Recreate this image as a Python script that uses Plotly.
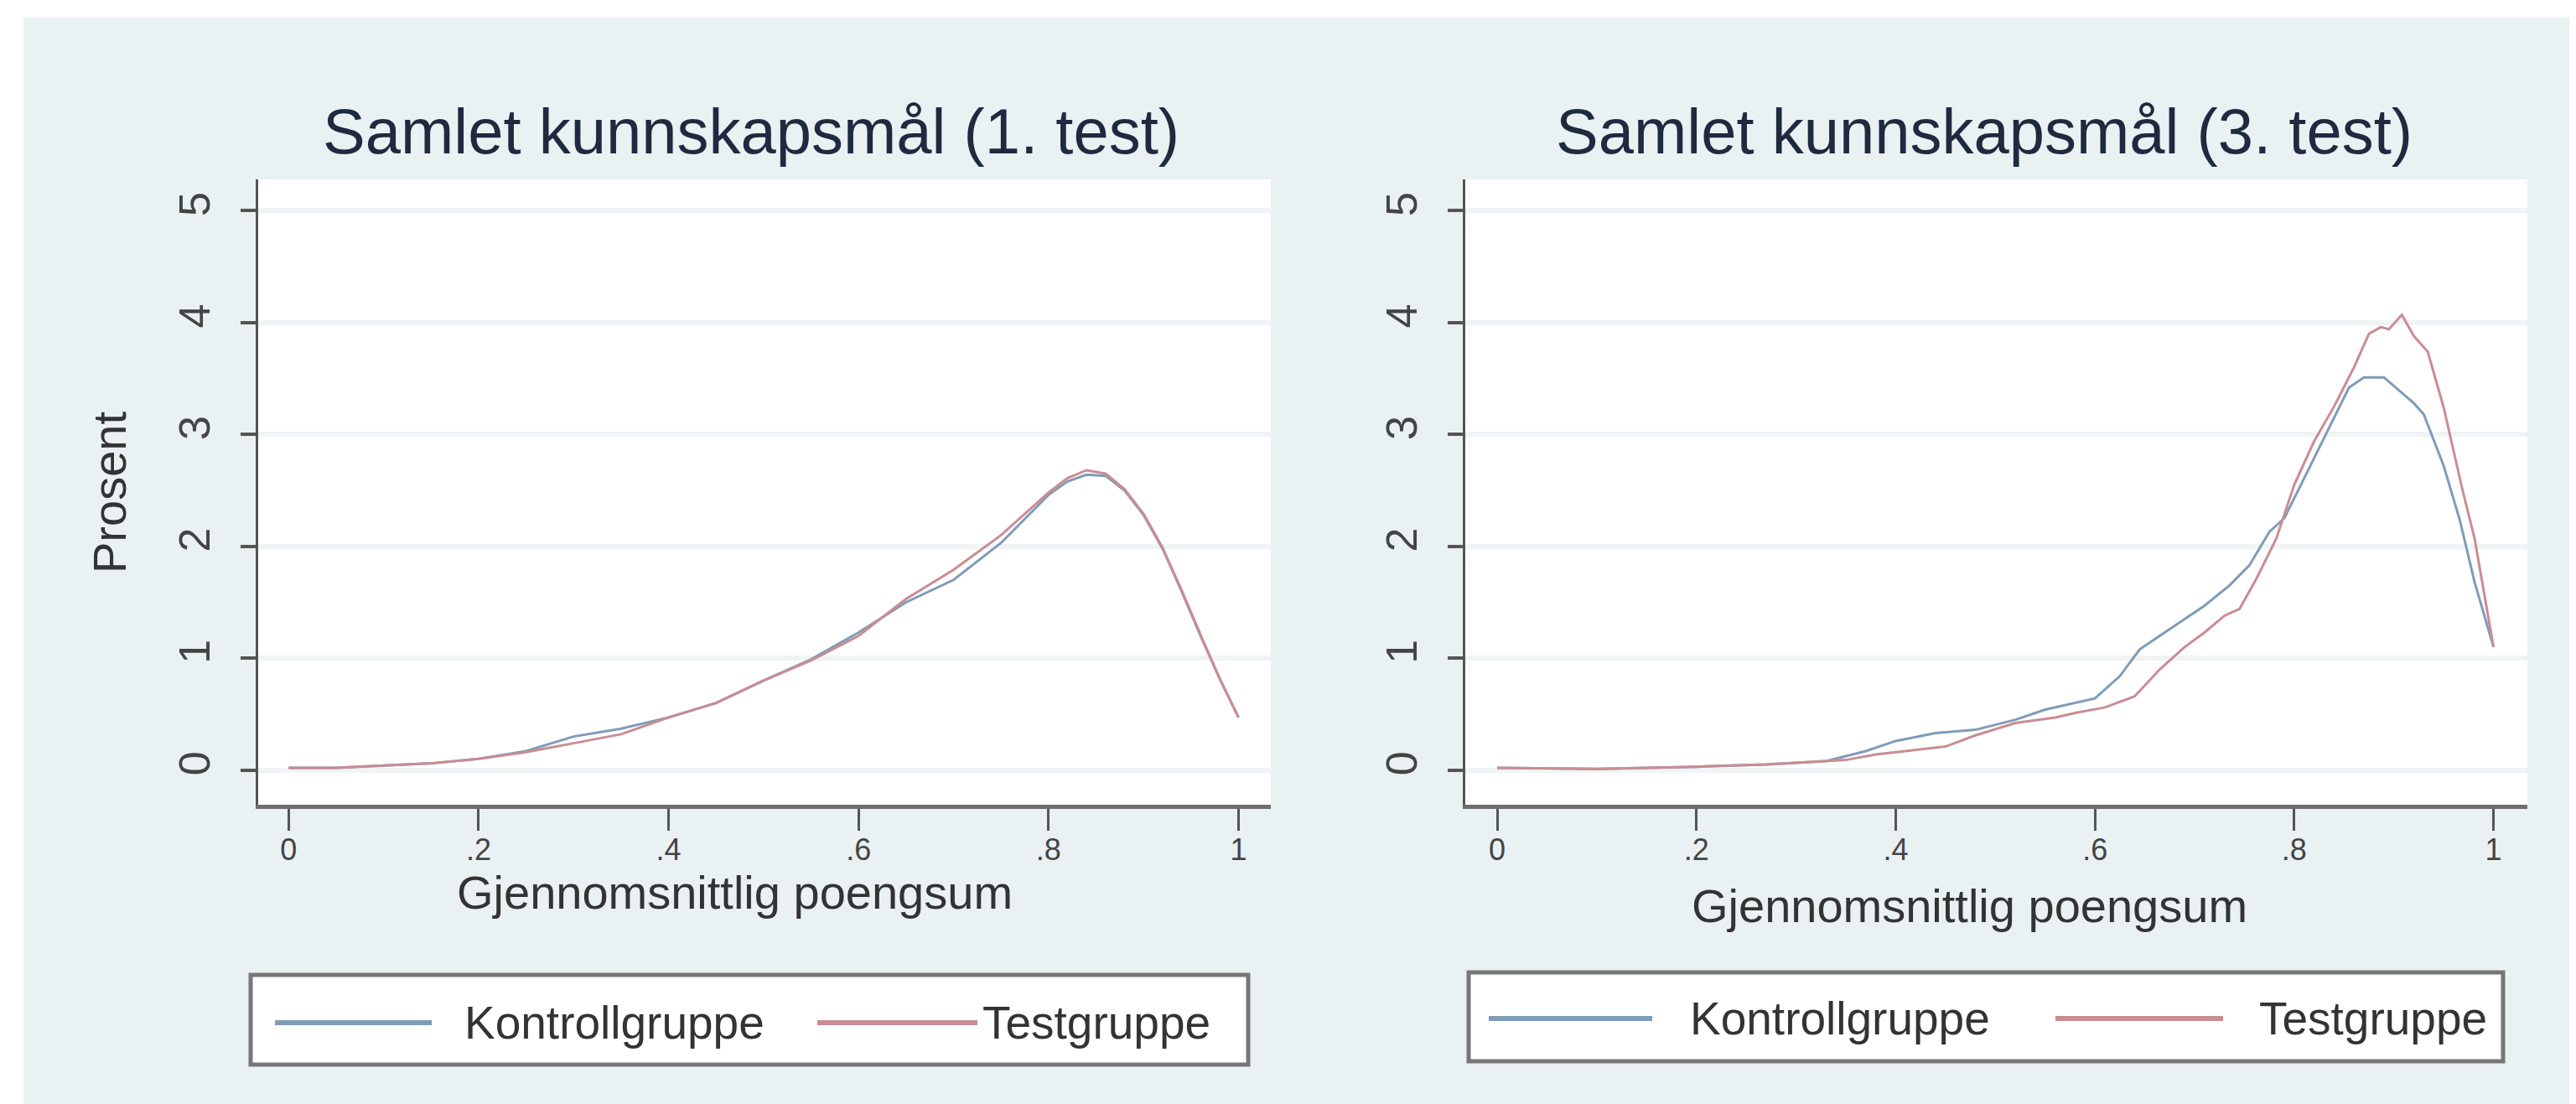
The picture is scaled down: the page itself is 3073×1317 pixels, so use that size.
import plotly.graph_objects as go
from plotly.subplots import make_subplots

# Samlet kunnskapsmål (1. test) - kernel density per gruppe
x_test1 = [0, 0.05, 0.1, 0.15, 0.2, 0.25, 0.3, 0.35, 0.4, 0.45, 0.5, 0.55, 0.6, 0.65,
           0.7, 0.75, 0.8, 0.82, 0.84, 0.86, 0.88, 0.9, 0.92, 0.94, 0.96, 0.98, 1.0]
kontroll1 = [0.02, 0.02, 0.04, 0.06, 0.10, 0.17, 0.30, 0.37, 0.47, 0.60, 0.80, 0.99, 1.23, 1.50,
             1.70, 2.03, 2.46, 2.58, 2.64, 2.63, 2.50, 2.28, 1.98, 1.60, 1.20, 0.82, 0.47]
testgr1 = [0.02, 0.02, 0.04, 0.06, 0.10, 0.16, 0.24, 0.32, 0.47, 0.60, 0.80, 0.98, 1.20, 1.53,
           1.79, 2.10, 2.48, 2.61, 2.68, 2.65, 2.51, 2.29, 1.99, 1.61, 1.21, 0.82, 0.47]

# Samlet kunnskapsmål (3. test)
x_kontroll3 = [0, 0.1, 0.2, 0.27, 0.33, 0.37, 0.4, 0.44, 0.48, 0.52, 0.55, 0.6, 0.625, 0.645,
               0.68, 0.71, 0.735, 0.755, 0.775, 0.79, 0.815, 0.84, 0.855, 0.87, 0.89, 0.92,
               0.93, 0.95, 0.966, 0.981, 1.0]
kontroll3 = [0.02, 0.01, 0.03, 0.05, 0.08, 0.17, 0.26, 0.33, 0.36, 0.45, 0.54, 0.64, 0.84, 1.08,
             1.29, 1.47, 1.65, 1.83, 2.13, 2.25, 2.70, 3.15, 3.42, 3.51, 3.51, 3.28,
             3.18, 2.72, 2.24, 1.68, 1.10]
x_test3 = [0, 0.1, 0.2, 0.27, 0.35, 0.38, 0.41, 0.45, 0.48, 0.52, 0.56, 0.58, 0.61, 0.64,
           0.665, 0.69, 0.71, 0.73, 0.745, 0.762, 0.782, 0.80, 0.82, 0.84, 0.86, 0.875,
           0.887, 0.895, 0.908, 0.92, 0.934, 0.95, 0.969, 0.981, 1.0]
testgr3 = [0.02, 0.01, 0.03, 0.05, 0.09, 0.14, 0.17, 0.21, 0.31, 0.42, 0.47, 0.51, 0.56, 0.66,
           0.90, 1.10, 1.23, 1.38, 1.44, 1.71, 2.07, 2.55, 2.94, 3.25, 3.60, 3.90,
           3.96, 3.94, 4.07, 3.88, 3.74, 3.24, 2.50, 2.07, 1.10]

titler = ["Samlet kunnskapsmål (1. test)", "Samlet kunnskapsmål (3. test)"]
grupper = ["Kontrollgruppe", "Testgruppe"]
x_tickvals = [0, 0.2, 0.4, 0.6, 0.8, 1]
x_ticktext = ["0", ".2", ".4", ".6", ".8", "1"]
y_tickvals = [0, 1, 2, 3, 4, 5]

W, H = 3073, 1317
FONT = "Liberation Sans, Arial, sans-serif"
BG = "#e9f1f3"
BLAA = "#7f9cb8"
ROED = "#c98d93"


def px(x):
    return x / W


def py(y):
    return 1 - y / H


fig = make_subplots(rows=1, cols=2)

paneler = [
    (1, x_test1, kontroll1, x_test1, testgr1),
    (2, x_kontroll3, kontroll3, x_test3, testgr3),
]
for col, xk, yk, xt, yt in paneler:
    fig.add_trace(go.Scatter(x=xk, y=yk, mode="lines", name=grupper[0], showlegend=False,
                             line=dict(color=BLAA, width=3)), row=1, col=col)
    fig.add_trace(go.Scatter(x=xt, y=yt, mode="lines", name=grupper[1], showlegend=False,
                             line=dict(color=ROED, width=3)), row=1, col=col)

akse_x = dict(range=[-0.032, 1.034], tickvals=x_tickvals, ticktext=x_ticktext,
              showgrid=False, zeroline=False, showline=True, linecolor="#6e6e6e",
              linewidth=5, ticks="outside", ticklen=26, tickwidth=3, tickcolor="#555",
              ticklabelstandoff=-8,
              tickfont=dict(size=36, color="#444", family=FONT))
akse_y = dict(range=[-0.31, 5.28], tickvals=y_tickvals, tickangle=-90,
              showgrid=True, gridcolor="#f0f4f5", gridwidth=6, zeroline=False,
              showline=True, linecolor="#555", linewidth=3, ticks="outside",
              ticklen=18, tickwidth=4, tickcolor="#555", ticklabelstandoff=16,
              tickfont=dict(size=52, color="#444", family=FONT))

fig.update_xaxes(**akse_x)
fig.update_yaxes(**akse_y)
fig.update_layout(
    xaxis=dict(domain=[px(300), px(1508)]),
    xaxis2=dict(domain=[px(1740), px(3007)]),
    yaxis=dict(domain=[py(952), py(206)]),
    yaxis2=dict(domain=[py(952), py(206)]),
)

shapes = [
    # hvit kant øverst og til venstre
    dict(type="rect", xref="paper", yref="paper", x0=0, x1=1, y0=py(13), y1=1,
         fillcolor="white", line=dict(width=0), layer="below"),
    dict(type="rect", xref="paper", yref="paper", x0=0, x1=px(20), y0=0, y1=1,
         fillcolor="white", line=dict(width=0), layer="below"),
]
annotations = []

# titler og aksetitler
for tekst, cx in zip(titler, [888, 2359]):
    annotations.append(dict(text=tekst, x=px(cx), y=py(148), xref="paper", yref="paper",
                            showarrow=False, xanchor="center", yanchor="middle",
                            font=dict(size=76, color="#1f2a40", family=FONT)))
for cx, cy in [(868, 1056), (2341, 1072)]:
    annotations.append(dict(text="Gjennomsnittlig poengsum", x=px(cx), y=py(cy),
                            xref="paper", yref="paper", showarrow=False,
                            xanchor="center", yanchor="middle",
                            font=dict(size=56, color="#333", family=FONT)))
annotations.append(dict(text="Prosent", x=px(123), y=py(580), xref="paper", yref="paper",
                        showarrow=False, textangle=-90, xanchor="center", yanchor="middle",
                        font=dict(size=56, color="#333", family=FONT)))

# legender (en per panel)
legender = [
    dict(box=(291, 1481, 1155, 1262), ly=1212, linjer=[(320, 507), (967, 1158)], tekst=[544, 1162]),
    dict(box=(1744, 2978, 1152, 1258), ly=1207, linjer=[(1768, 1963), (2444, 2644)], tekst=[2006, 2685]),
]
for leg in legender:
    x0, x1, y0, y1 = leg["box"]
    shapes.append(dict(type="rect", xref="paper", yref="paper", x0=px(x0), x1=px(x1),
                       y0=py(y1), y1=py(y0), fillcolor="white",
                       line=dict(color="#777", width=5)))
    for (lx0, lx1), farge, tx, navn in zip(leg["linjer"], [BLAA, ROED], leg["tekst"], grupper):
        shapes.append(dict(type="line", xref="paper", yref="paper", x0=px(lx0), x1=px(lx1),
                           y0=py(leg["ly"]), y1=py(leg["ly"]), line=dict(color=farge, width=6)))
        annotations.append(dict(text=navn, x=px(tx), y=py(leg["ly"]), xref="paper", yref="paper",
                                showarrow=False, xanchor="left", yanchor="middle",
                                font=dict(size=55, color="#333", family=FONT)))

fig.update_layout(
    width=W, height=H, autosize=False,
    margin=dict(l=0, r=0, t=0, b=0),
    paper_bgcolor=BG, plot_bgcolor="white",
    showlegend=False,
    shapes=shapes, annotations=annotations,
    font=dict(family=FONT),
)

fig.write_html("out.html")
